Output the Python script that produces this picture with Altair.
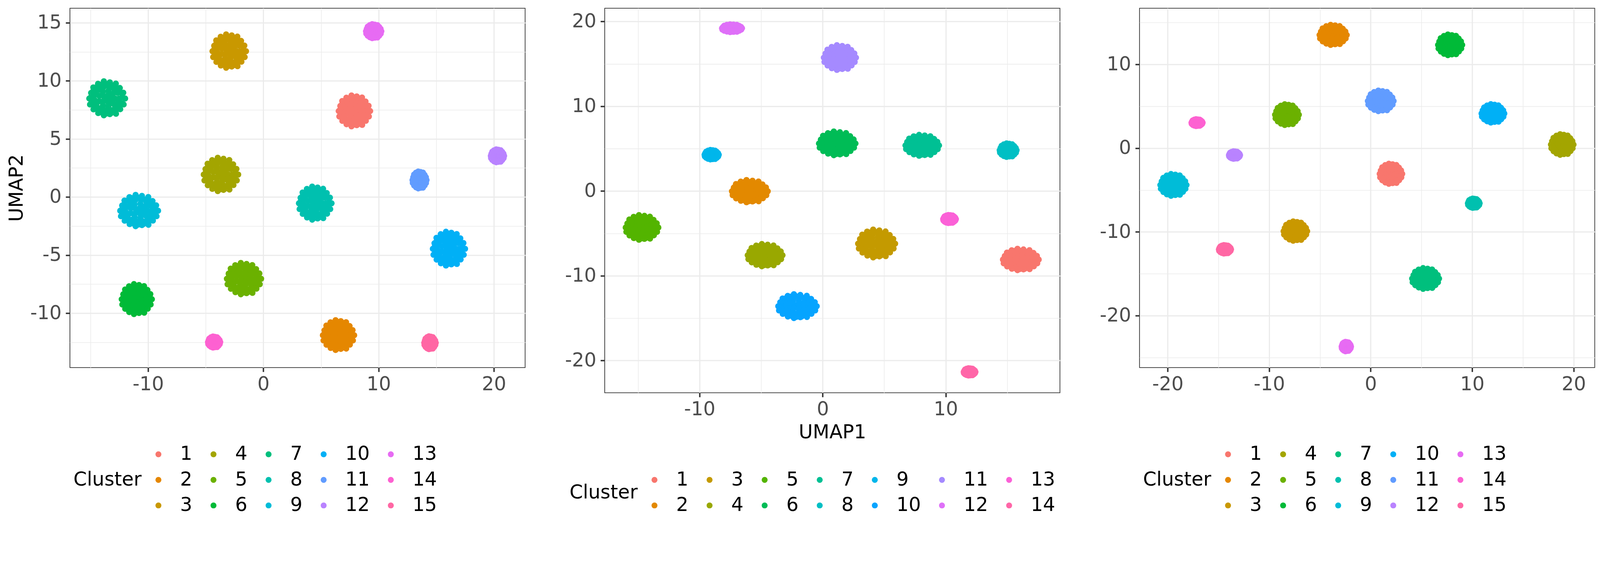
import altair as alt
import pandas as pd

# ---------------- data ----------------
CLUSTERS_15 = [str(i) for i in range(1, 16)]
CLUSTERS_14 = [str(i) for i in range(1, 15)]

PAL15 = ["#F8766D", "#E58700", "#C99800", "#A3A500", "#6BB100", "#00BA38", "#00BF7D",
         "#00C0AF", "#00BCD8", "#00B0F6", "#619CFF", "#B983FF", "#E76BF3", "#FD61D1", "#FF67A4"]
PAL14 = ["#F8766D", "#E38900", "#C49A00", "#99A800", "#53B400", "#00BC56", "#00C094",
         "#00BFC4", "#00B6EB", "#06A4FF", "#A58AFF", "#DF70F8", "#FB61D7", "#FF66A8"]

# panel 1: cluster centres and half extents (UMAP units)
P1_CX = [7.88, 6.50, -2.98, -3.70, -1.70, -11.00, -13.57, 4.48, -10.80, 16.08, 13.54, 20.30, 9.56, -4.28, 14.45]
P1_CY = [7.40, -11.90, 12.55, 1.93, -7.04, -8.80, 8.48, -0.54, -1.18, -4.46, 1.46, 3.54, 14.27, -12.49, -12.55]
P1_HX = [1.68, 1.67, 1.77, 1.81, 1.80, 1.62, 1.87, 1.73, 1.96, 1.71, 0.91, 0.88, 0.97, 0.83, 0.80]
P1_HY = [1.66, 1.61, 1.77, 1.77, 1.68, 1.62, 1.80, 1.76, 1.68, 1.79, 1.04, 0.86, 0.91, 0.78, 0.86]

# panel 2
P2_CX = [16.08, -5.94, 4.36, -4.70, -14.70, 1.16, 8.07, 15.06, -9.03, -2.07, 1.38, -7.38, 10.30, 11.93]
P2_CY = [-8.09, -0.03, -6.21, -7.58, -4.31, 5.61, 5.38, 4.81, 4.28, -13.60, 15.74, 19.21, -3.31, -21.35]
P2_HX = [1.75, 1.75, 1.80, 1.71, 1.62, 1.78, 1.66, 0.97, 0.86, 1.86, 1.60, 1.10, 0.80, 0.76]
P2_HY = [1.70, 1.75, 2.09, 1.75, 1.90, 1.84, 1.67, 1.22, 0.97, 1.85, 1.90, 0.87, 0.89, 0.84]

# panel 3
P3_CX = [1.98, -3.72, -7.44, 18.86, -8.27, 7.81, 5.39, 10.15, -19.46, 12.03, 0.97, -13.43, -2.41, -17.12, -14.37]
P3_CY = [-3.07, 13.51, -9.91, 0.42, 3.99, 12.32, -15.57, -6.58, -4.40, 4.14, 5.63, -0.83, -23.69, 3.04, -12.08]
P3_HX = [1.46, 1.69, 1.51, 1.46, 1.52, 1.54, 1.68, 0.92, 1.64, 1.47, 1.62, 0.89, 0.80, 0.89, 0.94]
P3_HY = [1.64, 1.64, 1.59, 1.67, 1.68, 1.67, 1.68, 0.97, 1.74, 1.53, 1.67, 0.86, 0.98, 0.82, 0.92]

# axis domains and tick values
P1_XDOM = [-16.78, 22.71]
P1_YDOM = [-14.68, 16.25]
P2_XDOM = [-17.71, 19.28]
P2_YDOM = [-23.81, 21.57]
P3_XDOM = [-22.78, 22.08]
P3_YDOM = [-26.19, 16.70]

P1_XTICKS = [-15, -10, -5, 0, 5, 10, 15, 20]
P1_YTICKS = [-12.5, -10, -7.5, -5, -2.5, 0, 2.5, 5, 7.5, 10, 12.5, 15]
P2_XTICKS = [-15, -10, -5, 0, 5, 10, 15]
P2_YTICKS = [-20, -15, -10, -5, 0, 5, 10, 15, 20]
P3_XTICKS = [-20, -15, -10, -5, 0, 5, 10, 15, 20]
P3_YTICKS = [-25, -20, -15, -10, -5, 0, 5, 10, 15]

# unit-disc template for the shape of one cell cloud (centre, inner rings, bumpy rim)
BLOB_DX = [0.00,
           0.22, 0.07, -0.18, -0.18, 0.07,
           0.45, 0.34, 0.08, -0.22, -0.42, -0.42, -0.22, 0.08, 0.34,
           0.66, 0.58, 0.38, 0.11, -0.19, -0.45, -0.62, -0.68, -0.58, -0.38, -0.11, 0.19, 0.45, 0.62,
           0.84, 0.78, 0.64, 0.43, 0.17, -0.10, -0.36, -0.59, -0.76, -0.85, -0.84, -0.74, -0.56, -0.31, -0.04, 0.23, 0.48, 0.68, 0.81,
           1.00, 0.90, 0.71, 0.49, 0.16, -0.17, -0.49, -0.75, -0.87, -0.97, -0.93, -0.74,
           -0.48, -0.17, 0.16, 0.50, 0.73, 0.92]
BLOB_DY = [0.00,
           0.00, 0.21, 0.13, -0.13, -0.21,
           0.00, 0.29, 0.44, 0.39, 0.15, -0.15, -0.39, -0.44, -0.29,
           0.00, 0.33, 0.56, 0.67, 0.65, 0.49, 0.24, -0.08, -0.33, -0.56, -0.67, -0.65, -0.49, -0.24,
           0.08, 0.33, 0.55, 0.72, 0.83, 0.85, 0.78, 0.63, 0.41, 0.15, -0.13, -0.38, -0.61, -0.78, -0.86, -0.83, -0.71, -0.52, -0.26,
           0.00, 0.33, 0.60, 0.85, 0.92, 0.98, 0.84, 0.63, 0.32, 0.00, -0.34, -0.62,
           -0.83, -0.96, -0.89, -0.87, -0.61, -0.34]

FONT = "DejaVu Sans"
PT_RADIUS_PX = 9.5


def build_df(names, cx, cy, hx, hy, xdom, ydom, w, h):
    rx = PT_RADIUS_PX * (xdom[1] - xdom[0]) / w
    ry = PT_RADIUS_PX * (ydom[1] - ydom[0]) / h
    rows = []
    for name, x0, y0, ax, ay in zip(names, cx, cy, hx, hy):
        sx = max(ax - rx, 0.05)
        sy = max(ay - ry, 0.05)
        for dx, dy in zip(BLOB_DX, BLOB_DY):
            rows.append({"Cluster": name, "UMAP1": x0 + dx * sx, "UMAP2": y0 + dy * sy})
    return pd.DataFrame(rows)


def axis(values, major):
    test = f"datum.value % {major} === 0"
    return alt.Axis(
        values=values,
        labelExpr=f"{test} ? '' + datum.value : ''",
        labelOverlap=False,
        labelFlush=False,
        grid=True,
        gridColor="#EBEBEB",
        gridWidth={"condition": {"test": test, "value": 3.3}, "value": 1.7},
        tickOpacity={"condition": {"test": test, "value": 1}, "value": 0},
    )


def panel(names, pal, nrows, cx, cy, hx, hy, xdom, ydom, xticks, xmaj, yticks, ymaj,
          w, h, xtitle, ytitle, lx, ly):
    df = build_df(names, cx, cy, hx, hy, xdom, ydom, w, h)
    n = len(names)
    ncols = (n + nrows - 1) // nrows
    return alt.Chart(df).mark_circle(size=300, opacity=1).encode(
        x=alt.X("UMAP1:Q", title=xtitle,
                scale=alt.Scale(domain=xdom, nice=False, zero=False),
                axis=axis(xticks, xmaj)),
        y=alt.Y("UMAP2:Q", title=ytitle,
                scale=alt.Scale(domain=ydom, nice=False, zero=False),
                axis=axis(yticks, ymaj)),
        color=alt.Color("Cluster:N",
                        scale=alt.Scale(domain=names, range=pal),
                        legend=alt.Legend(title="Cluster", orient="none", direction="vertical",
                                          legendX=lx, legendY=ly, columns=ncols)),
    ).properties(width=w, height=h)


W = 1281
p1 = panel(CLUSTERS_15, PAL15, 3, P1_CX, P1_CY, P1_HX, P1_HY, P1_XDOM, P1_YDOM,
           P1_XTICKS, 10, P1_YTICKS, 5, W, 1011, None, "UMAP2", 10, 1228)
p2 = panel(CLUSTERS_14, PAL14, 2, P2_CX, P2_CY, P2_HX, P2_HY, P2_XDOM, P2_YDOM,
           P2_XTICKS, 10, P2_YTICKS, 10, W, 1082, "UMAP1", None, -99, 1300)
p3 = panel(CLUSTERS_15, PAL15, 3, P3_CX, P3_CY, P3_HX, P3_HY, P3_XDOM, P3_YDOM,
           P3_XTICKS, 10, P3_YTICKS, 10, W, 1011, None, None, 10, 1228)

chart = alt.hconcat(p1, p2, p3, spacing=109).resolve_scale(
    color="independent"
).resolve_legend(
    color="independent"
).properties(
    padding={"left": 10, "top": -55, "right": 5, "bottom": 5},
    background="white",
).configure(
    font=FONT
).configure_view(
    stroke="#333333", strokeWidth=2
).configure_axis(
    labelFont=FONT, labelFontSize=54, labelColor="#4D4D4D",
    titleFont=FONT, titleFontSize=54, titleColor="#000000", titleFontWeight="normal",
    tickColor="#333333", tickWidth=4, tickSize=12, domain=False,
).configure_axisX(
    labelPadding=8, titlePadding=11
).configure_axisY(
    labelPadding=12, titlePadding=10
).configure_legend(
    labelFont=FONT, labelFontSize=54, labelColor="#000000",
    titleFont=FONT, titleFontSize=54, titleColor="#000000", titleFontWeight="normal",
    titleLimit=1000, labelLimit=1000,
    symbolSize=280, symbolType="circle", symbolStrokeWidth=0, symbolOpacity=1,
    labelOffset=34, columnPadding=32, rowPadding=18,
    titleOrient="left", titleAnchor="middle", titleBaseline="middle", titlePadding=20,
    padding=0,
)

chart.save("out.html", embed_options={"renderer": "svg", "actions": False})
